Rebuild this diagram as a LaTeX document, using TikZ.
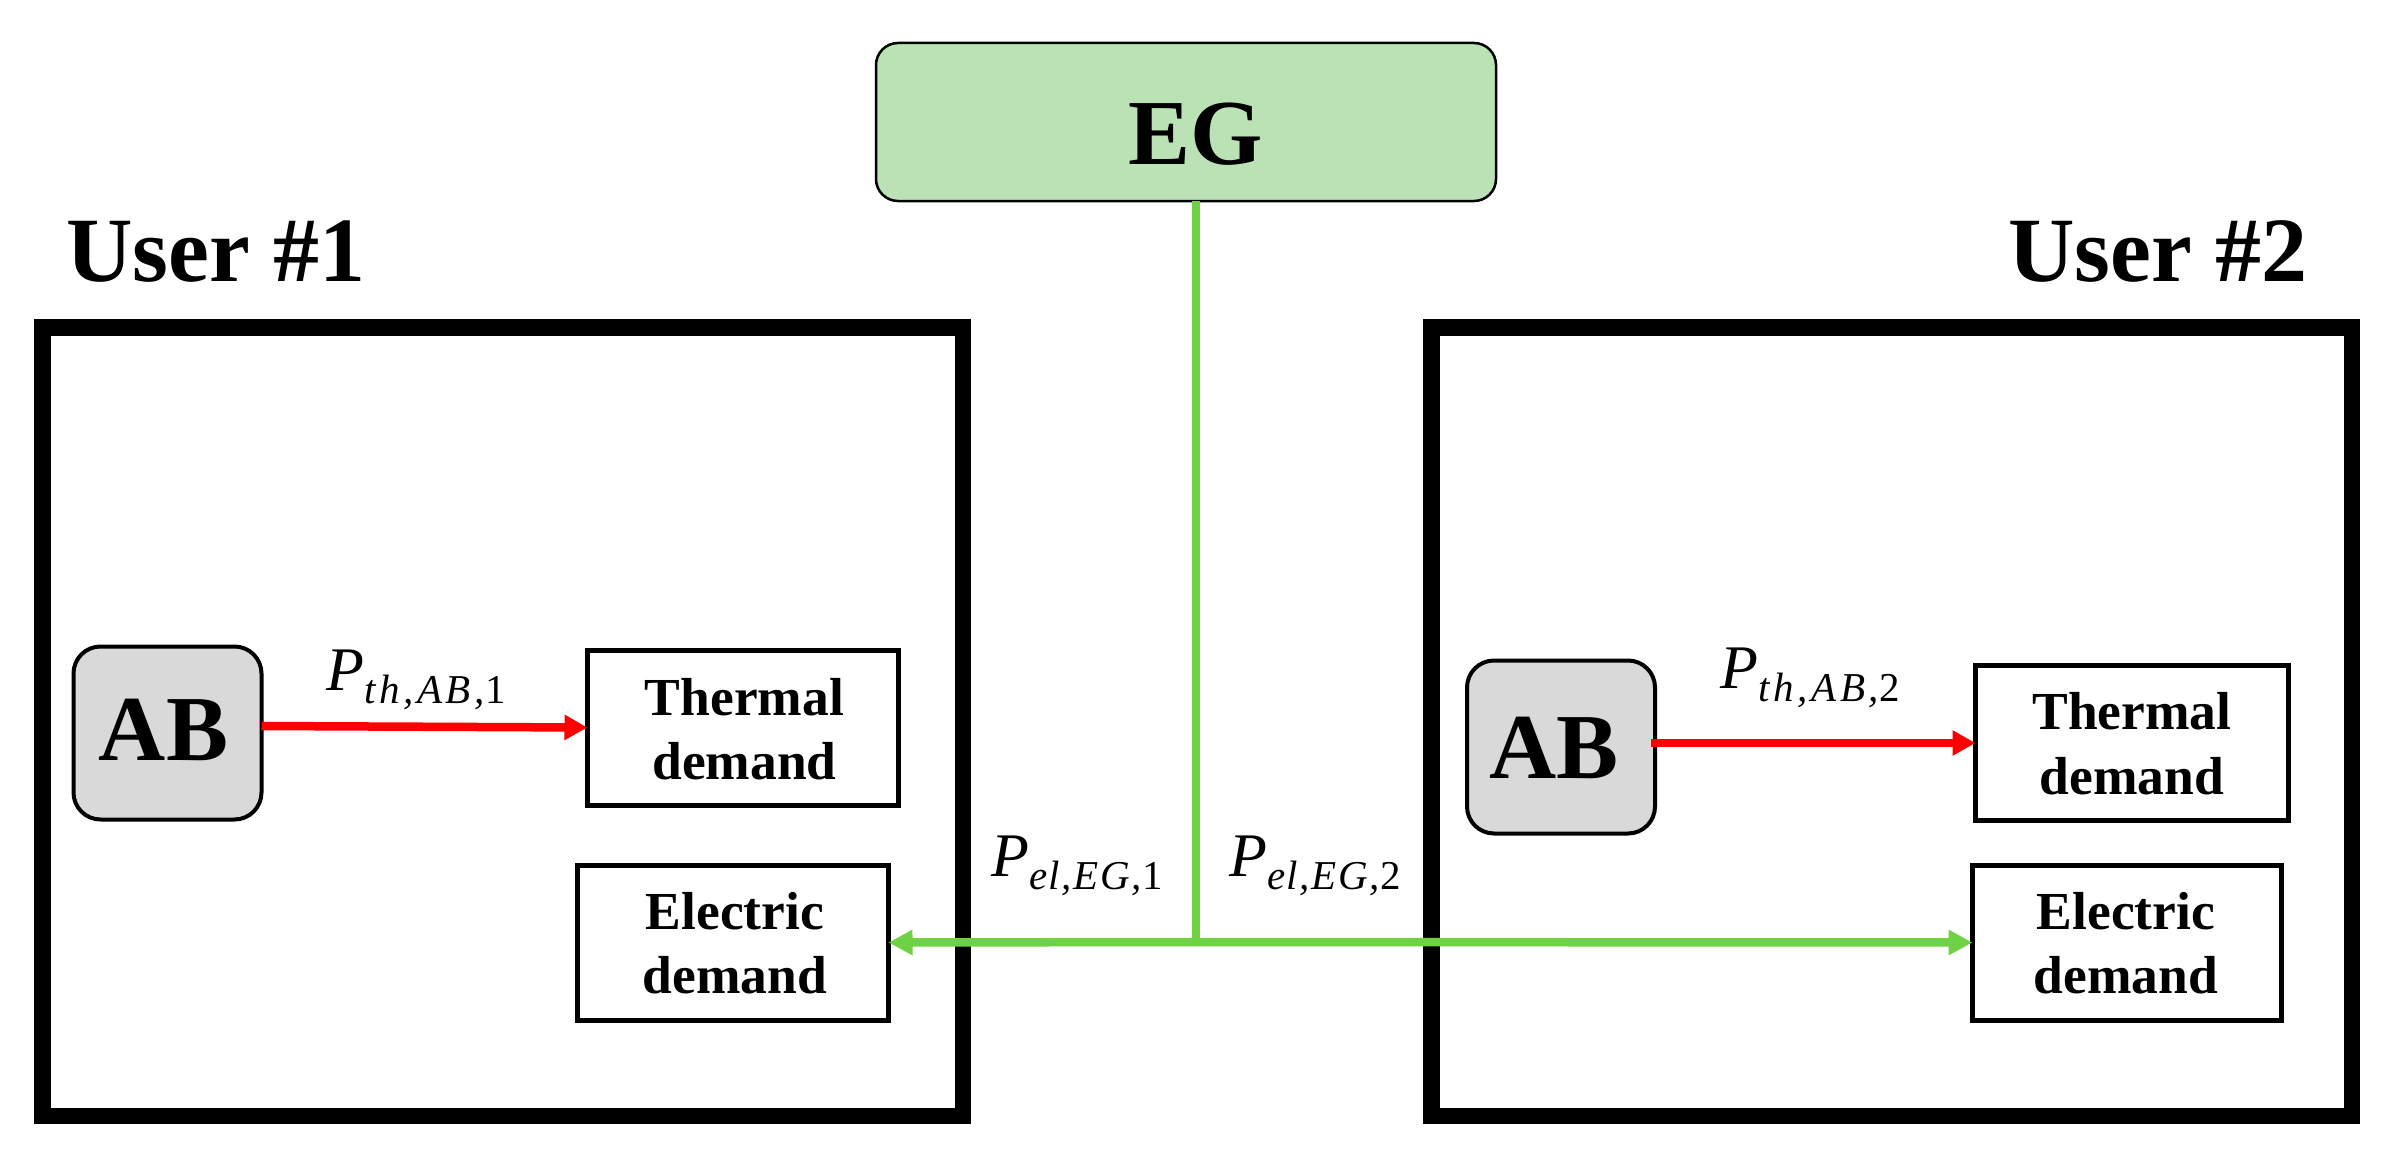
\documentclass[tikz,border=0pt]{standalone}
\usepackage{fontspec}
\setmainfont{Liberation Serif}
\usetikzlibrary{arrows.meta}
\definecolor{egfill}{HTML}{BBE2B5}
\definecolor{abfill}{HTML}{D9D9D9}
\definecolor{elgreen}{HTML}{6FD144}
\definecolor{thred}{HTML}{FF0000}
\newcommand{\oneline}[3]{\raisebox{#2}[0pt][0pt]{\makebox[0pt]{\hspace*{#1}#3}}}
\newcommand{\twolines}[5]{\oneline{#1}{#2}{#3}\oneline{#1}{#4}{#5}}
\newcommand{\powerlabel}[3][8]{{\fontsize{62}{62}\selectfont\itshape #2}\raisebox{-13pt}{\fontsize{41}{41}\selectfont\addfontfeature{LetterSpace=#1}#3}}
\tikzset{
  user/.style={draw=black,line width=16.5pt,fill=white,minimum width=#1,minimum height=788.5pt,inner sep=0pt,outer sep=0pt},
  grid/.style={draw=black,line width=2.5pt,fill=egfill,rounded corners=22pt,minimum width=620pt,minimum height=158pt,inner sep=0pt,outer sep=0pt,font=\fontsize{93}{93}\selectfont\bfseries},
  boiler/.style={draw=black,line width=4pt,fill=abfill,rounded corners=27pt,minimum width=188pt,minimum height=173pt,inner sep=0pt,outer sep=0pt,font=\fontsize{93}{93}\selectfont\bfseries},
  demand/.style={draw=black,line width=5pt,fill=white,minimum width=#1,minimum height=155pt,inner sep=0pt,outer sep=0pt,font=\fontsize{53.5}{53.5}\selectfont\bfseries},
  title/.style={anchor=base west,inner sep=0pt,font=\fontsize{92}{92}\selectfont\bfseries},
  plabel/.style={anchor=base west,inner sep=0pt},
  redflow/.style={draw=thred,line width=8.5pt,-{Triangle[length=23pt,width=24pt]}},
  greenflow/.style={draw=elgreen,line width=8.5pt},
  greenarrow/.style={greenflow,-{Triangle[length=24pt,width=24pt]}}
}
\begin{document}
\begin{tikzpicture}[x=1pt,y=-1pt]
\useasboundingbox (0,0) rectangle (2382,1153);
\fill[white] (0,0) rectangle (2382,1153);
% user frames
\node[user=920.5pt] (u1) at (502.5,721.5) {};
\node[user=920.5pt] (u2) at (1891.5,721.5) {};
% titles
\node[title] (t1) at (66,281) {User \#1};
\node[title] (t2) at (2008,281) {User \#2};
% grid
\node[grid] (eg) at (1186,122) {\oneline{20pt}{-43pt}{EG}};
% boilers
\node[boiler] (ab1) at (167.5,733) {\oneline{-8pt}{-27pt}{AB}};
\node[boiler] (ab2) at (1561,747) {\oneline{-14pt}{-31pt}{AB}};
% demands
\node[demand=311pt] (th1) at (743,727.5) {\twolines{3pt}{12.5pt}{Thermal}{-51.5pt}{demand}};
\node[demand=311pt] (el1) at (733,942.5) {\twolines{4pt}{13.5pt}{Electric}{-50.5pt}{demand}};
\node[demand=313pt] (th2) at (2132,743) {\twolines{0pt}{14pt}{Thermal}{-51pt}{demand}};
\node[demand=309pt] (el2) at (2127,942.5) {\twolines{-2pt}{13.5pt}{Electric}{-50.5pt}{demand}};
% labels
\node[plabel] (p1) at (326,690) {\powerlabel[9]{P}{\itshape th,AB,{\upshape 1}}};
\node[plabel] (p2) at (1720,688) {\powerlabel[9]{P}{\itshape th,AB,{\upshape 2}}};
\node[plabel] (p3) at (991,876) {\powerlabel[4]{P}{\itshape el,EG,{\upshape 1}}};
\node[plabel] (p4) at (1229,876) {\powerlabel[4]{P}{\itshape el,EG,{\upshape 2}}};
% connectors
\coordinate (j) at (1196,942);
\draw[greenflow] ([xshift=10pt]eg.south) -- (j);
\draw[greenarrow] (j) -- (el1.east);
\draw[greenarrow] (j) -- (el2.west);
\draw[redflow] ([yshift=7pt]ab1.east) -- (th1.west);
\draw[redflow] ([xshift=-4pt,yshift=4pt]ab2.east) -- (th2.west);
\end{tikzpicture}
\end{document}
